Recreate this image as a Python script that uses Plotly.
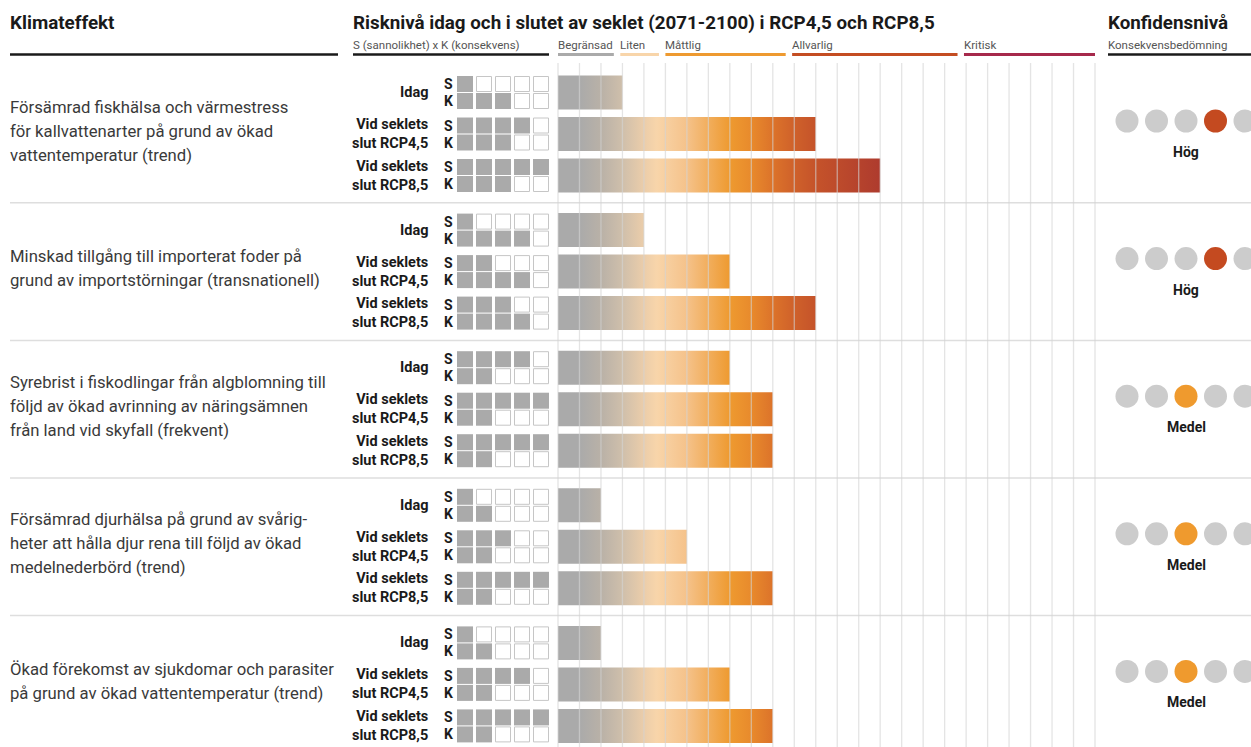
import plotly.graph_objects as go

# ---------------------------------------------------------------- data
effects = [
    ["Försämrad fiskhälsa och värmestress",
     "för kallvattenarter på grund av ökad",
     "vattentemperatur (trend)"],
    ["Minskad tillgång till importerat foder på",
     "grund av importstörningar (transnationell)"],
    ["Syrebrist i fiskodlingar från algblomning till",
     "följd av ökad avrinning av näringsämnen",
     "från land vid skyfall (frekvent)"],
    ["Försämrad djurhälsa på grund av svårig-",
     "heter att hålla djur rena till följd av ökad",
     "medelnederbörd (trend)"],
    ["Ökad förekomst av sjukdomar och parasiter",
     "på grund av ökad vattentemperatur (trend)"],
]
periods = ["Idag", "Vid seklets<br>slut RCP4,5", "Vid seklets<br>slut RCP8,5"]

# S (sannolikhet) and K (konsekvens) per effect and period, scale 1-5
likelihood = [[1, 4, 5], [1, 2, 3], [4, 5, 5], [1, 3, 5], [1, 4, 5]]
consequence = [[3, 3, 3], [4, 4, 4], [2, 2, 2], [2, 2, 2], [2, 2, 2]]

confidence_level = [4, 4, 3, 3, 3]          # position on a 5-step scale
confidence_text = ["Hög", "Hög", "Medel", "Medel", "Medel"]

risk_classes = ["Begränsad", "Liten", "Måttlig", "Allvarlig", "Kritisk"]
class_bounds = [0, 2.9, 5, 10.9, 18.9, 25]
scale_max = 25

# ---------------------------------------------------------------- style
W, H = 1251, 747
FONT = "Roboto"
DARK = "#1a1a1a"
TEXT = "#3a3a3a"
GREY_FILL = "#aaaaaa"
class_colors = ["#aaaaaa", "#f8d5aa", "#ee9a30", "#c44d22", "#a6294b"]
conf_colors = {"Hög": "#c44a20", "Medel": "#ef9a2e"}

# horizontal colour ramp along the risk axis (risk units -> colour)
ramp_end = 15
ramp = [(0, "#aaaaaa"), (1, "#aaaaaa"), (2, "#b9b1a7"), (3, "#cfbfab"),
        (4, "#ebcdaa"), (4.6, "#f8d5aa"), (6, "#f5c28a"), (8, "#ee9a30"),
        (9, "#e88a2c"), (10, "#dc732a"), (11, "#cf612a"), (12, "#c5532a"),
        (15, "#ae3b2e")]
colorscale = [[u / ramp_end, c] for u, c in ramp]

# pixel geometry of the three horizontal scales
BAR_X0, BAR_UNIT = 558, 21.48       # risk axis
SQ_X0, SQ_STEP = 465, 19            # S/K squares
DOT_X0, DOT_STEP = 1127, 29.5       # confidence dots

ROW_TOP, ROW_STEP, SLOT_STEP = 134, 137.6, 41.5
BAR_H = 34


def row_center(r):
    return ROW_TOP + ROW_STEP * r


def px(x):
    return x / W


def axis_range(x0, unit):
    return [-x0 / unit, (W - x0) / unit]


fig = go.Figure()

# ---------------------------------------------------------------- risk bars
for r in range(len(effects)):
    for s in range(len(periods)):
        v = likelihood[r][s] * consequence[r][s]
        yc = row_center(r) + (s - 1) * SLOT_STEP
        y0, y1 = yc - BAR_H / 2, yc + BAR_H / 2
        fig.add_trace(go.Scatter(
            x=[0, v, v, 0, 0], y=[y0, y0, y1, y1, y0],
            mode="lines", line=dict(width=0), fill="toself",
            fillgradient=dict(type="horizontal", colorscale=colorscale,
                              start=0, stop=ramp_end),
            hoverinfo="skip", showlegend=False))

# vertical grid over the bars, one line per risk unit
gx, gy = [], []
for u in range(scale_max + 1):
    gx += [u, u, None]
    gy += [63, H, None]
fig.add_trace(go.Scatter(x=gx, y=gy, mode="lines",
                         line=dict(color="rgba(212,212,212,0.62)", width=1.3),
                         hoverinfo="skip", showlegend=False))

# risk class key above the grid
for i, name in enumerate(risk_classes):
    start = class_bounds[i]
    end = class_bounds[i + 1] - (0.3 if i < len(risk_classes) - 1 else 0)
    fig.add_trace(go.Scatter(x=[start, end], y=[54.5, 54.5], mode="lines",
                             line=dict(color=class_colors[i], width=3),
                             hoverinfo="skip", showlegend=False))
    fig.add_annotation(x=start, y=45, xref="x", yref="y", text=name,
                       xanchor="left", yanchor="middle", showarrow=False,
                       xshift=-2, font=dict(family=FONT, size=11.5, color="#555"))

# ---------------------------------------------------------------- S/K squares
fx, fy, ex, ey = [], [], [], []
for r in range(len(effects)):
    for s in range(len(periods)):
        yc = row_center(r) + (s - 1) * SLOT_STEP
        for val, yy in ((likelihood[r][s], yc - 8.5), (consequence[r][s], yc + 8.5)):
            for i in range(5):
                if i < val:
                    fx.append(i); fy.append(yy)
                else:
                    ex.append(i); ey.append(yy)
fig.add_trace(go.Scatter(x=fx, y=fy, xaxis="x2", mode="markers",
                         marker=dict(symbol="square", size=16, color=GREY_FILL,
                                     line=dict(width=0)),
                         hoverinfo="skip", showlegend=False))
fig.add_trace(go.Scatter(x=ex, y=ey, xaxis="x2", mode="markers",
                         marker=dict(symbol="square", size=15, color="white",
                                     line=dict(width=1, color="#c6c6c6")),
                         hoverinfo="skip", showlegend=False))

# ---------------------------------------------------------------- confidence dots
dx, dy, dc = [], [], []
for r in range(len(effects)):
    for i in range(5):
        dx.append(i)
        dy.append(row_center(r) - 13)
        dc.append(conf_colors[confidence_text[r]] if i == confidence_level[r] - 1
                  else "#cccccc")
    fig.add_annotation(x=2, y=row_center(r) + 18, xref="x3", yref="y",
                       text=f"<b>{confidence_text[r]}</b>", showarrow=False,
                       xanchor="center", yanchor="middle",
                       font=dict(family=FONT, size=14, color=DARK))
fig.add_trace(go.Scatter(x=dx, y=dy, xaxis="x3", mode="markers",
                         marker=dict(size=23, color=dc, line=dict(width=0)),
                         hoverinfo="skip", showlegend=False))

# ---------------------------------------------------------------- row texts
for r, lines in enumerate(effects):
    c = row_center(r) - 3
    n = len(lines)
    for k, line in enumerate(lines):
        fig.add_annotation(x=px(8), y=c + (k - (n - 1) / 2) * 24,
                           xref="paper", yref="y", text=line,
                           xanchor="left", yanchor="middle", showarrow=False,
                           font=dict(family=FONT, size=16.7, color=TEXT))
    for s, label in enumerate(periods):
        yc = row_center(r) + (s - 1) * SLOT_STEP
        fig.add_annotation(x=px(430), y=yc, xref="paper", yref="y",
                           text=f"<b>{label}</b>", align="right",
                           xanchor="right", yanchor="middle", showarrow=False,
                           font=dict(family=FONT, size=14.5, color=DARK))
        for letter, yy in (("S", yc - 8.5), ("K", yc + 8.5)):
            fig.add_annotation(x=px(455), y=yy, xref="paper", yref="y",
                               text=f"<b>{letter}</b>", xanchor="right",
                               yanchor="middle", showarrow=False,
                               font=dict(family=FONT, size=14, color=DARK))

# row separators
shapes = []
for r in range(len(effects) - 1):
    yy = row_center(r) + ROW_STEP / 2
    shapes.append(dict(type="line", xref="paper", yref="y", x0=px(10), x1=1,
                       y0=yy, y1=yy, line=dict(color="#dedede", width=1.5),
                       layer="below"))

# ---------------------------------------------------------------- headers
headers = [
    (10, "Klimateffekt", None, (10, 338)),
    (353, "Risknivå idag och i slutet av seklet (2071-2100) i RCP4,5 och RCP8,5",
     "S (sannolikhet) x K (konsekvens)", (353, 549)),
    (1108, "Konfidensnivå", "Konsekvensbedömning", (1108, W)),
]
for x, title, sub, (u0, u1) in headers:
    fig.add_annotation(x=px(x), y=23, xref="paper", yref="y",
                       text=f"<b>{title}</b>", xanchor="left", yanchor="middle",
                       showarrow=False, xshift=-2,
                       font=dict(family=FONT, size=18.8, color=DARK))
    if sub:
        fig.add_annotation(x=px(x), y=45, xref="paper", yref="y", text=sub,
                           xanchor="left", yanchor="middle", showarrow=False,
                           xshift=-2, font=dict(family=FONT, size=11.5, color="#555"))
    shapes.append(dict(type="line", xref="paper", yref="y", x0=px(u0), x1=px(u1),
                       y0=54.5, y1=54.5, line=dict(color=DARK, width=2.5)))

hidden = dict(visible=False, showgrid=False, zeroline=False, fixedrange=True)
fig.update_layout(
    width=W, height=H, margin=dict(l=0, r=0, t=0, b=0),
    paper_bgcolor="white", plot_bgcolor="white",
    xaxis=dict(range=axis_range(BAR_X0, BAR_UNIT), domain=[0, 1], **hidden),
    xaxis2=dict(range=axis_range(SQ_X0, SQ_STEP), overlaying="x", anchor="y", **hidden),
    xaxis3=dict(range=axis_range(DOT_X0, DOT_STEP), overlaying="x", anchor="y", **hidden),
    yaxis=dict(range=[H, 0], domain=[0, 1], **hidden),
    shapes=shapes, showlegend=False, font=dict(family=FONT),
)

fig.write_html("out.html", config={"displayModeBar": False})
